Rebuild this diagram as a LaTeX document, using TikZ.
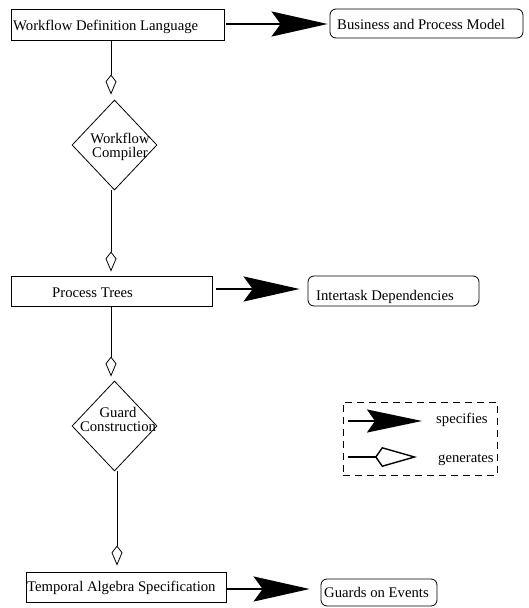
\documentclass[tikz,border=0pt]{standalone}
\usepackage{fontspec}
\setmainfont{Liberation Serif}
\usetikzlibrary{arrows.meta,shapes.geometric}
\begin{document}
\begin{tikzpicture}[x=1pt,y=-1pt,
  every node/.style={font=\fontsize{14.7}{13.5}\selectfont},
  box/.style={draw, line width=0.8pt, inner sep=0pt},
  rbox/.style={box, rounded corners=6pt},
  dia/.style={draw, diamond, line width=0.8pt, inner sep=0pt,
    minimum width=85pt, minimum height=90pt},
  txt/.style={inner sep=0pt, anchor=base west},
  spec/.style={line width=2.2pt, -{Stealth[length=56pt,width=25pt,inset=9pt]}},
  gen/.style={line width=0.8pt, -{Kite[open,length=20pt,width=11pt,inset=7pt]}},
]
\useasboundingbox (0,0) rectangle (529,608);

% main chain of boxes and decision diamonds
\node[box,  minimum width=213pt, minimum height=31pt] (wdl) at (117.5,24.5) {};
\node[rbox, minimum width=193pt, minimum height=29pt] (bpm) at (426.5,23.5) {};
\node[dia] (wc) at (114.5,145) {};
\node[box,  minimum width=201pt, minimum height=30pt] (pt)  at (111.5,291) {};
\node[rbox, minimum width=171pt, minimum height=30pt] (itd) at (393.5,291) {};
\node[dia] (gc) at (114.5,426) {};
\node[box,  minimum width=200pt, minimum height=30pt] (tas) at (126,587) {};
\node[rbox, minimum width=116pt, minimum height=27pt] (goe) at (379,592.5) {};

% labels
\node[txt] (wdlt) at (13,30) {Workflow Definition Language};
\node[txt] (bpmt) at (337,29.5) {Business and Process Model};
\node[inner sep=0pt, align=center] (wct) at (120,147) {Workflow\\Compiler};
\node[txt] (ptt)  at (52,297.3) {Process Trees};
\node[txt] (itdt) at (316,300.7) {Intertask Dependencies};
\node[inner sep=0pt, align=center] (gct) at (118,419.5) {Guard\\Construction};
\node[txt] (tast) at (27,591) {Temporal Algebra Specification};
\node[txt] (goet) at (324,597.3) {Guards on Events};

% "generates" connectors
\draw[gen] ([xshift=-3.5pt]wc.north |- wdl.south) -- ([xshift=-3.5pt,yshift=5pt]wc.north);
\draw[gen] ([xshift=-3.5pt]wc.south) -- ([xshift=-3.5pt,yshift=4pt]wc.south |- pt.north);
\draw[gen] ([xshift=-3.5pt]gc.north |- pt.south) -- ([xshift=-3.5pt,yshift=4pt]gc.north);
\draw[gen] ([xshift=2.5pt]gc.south) -- ([xshift=2.5pt,yshift=6pt]gc.south |- tas.north);

% "specifies" connectors
\draw[spec] ([xshift=2pt,yshift=0.5pt]wdl.east) -- ([xshift=-2pt,yshift=0.5pt]wdl.east -| bpm.west);
\draw[spec] ([xshift=4pt,yshift=2pt]pt.east) -- ([xshift=-8pt,yshift=2pt]pt.east -| itd.west);
\draw[spec] ([yshift=-2pt]tas.east) -- ([xshift=-11pt,yshift=-2pt]tas.east -| goe.west);

% legend
\node[draw, line width=0.8pt, dash pattern=on 7pt off 5pt,
  minimum width=154pt, minimum height=73pt, inner sep=0pt] (leg) at (420,438.5) {};
\coordinate (s0) at (348,421);
\coordinate (s1) at (422,421);
\coordinate (g0) at (348,457);
\coordinate (g1) at (417,457);
\draw[line width=2pt, -{Stealth[length=55pt,width=23pt,inset=8pt]}] (s0) -- (s1);
\draw[line width=1.4pt, -{Kite[open,length=42pt,width=20pt,inset=7pt]}] (g0) -- (g1);
\node[txt] (spt) at (436,423.3) {specifies};
\node[txt] (gnt) at (438,462.7) {generates};
\end{tikzpicture}
\end{document}
